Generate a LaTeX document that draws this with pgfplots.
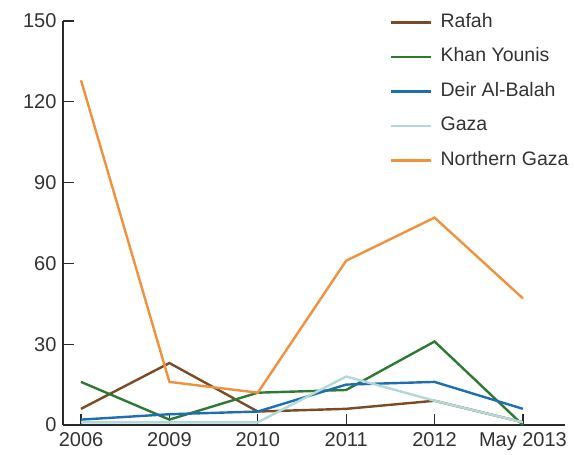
\documentclass[border=0pt]{standalone}
\usepackage{pgfplots}
\pgfplotsset{compat=1.18}
\usepackage{fontspec}
\setmainfont{Liberation Sans}
\definecolor{rafah}{HTML}{7A4B24}
\definecolor{khan}{HTML}{2D7A32}
\definecolor{deir}{HTML}{1E6EB4}
\definecolor{gaza}{HTML}{B2D8D8}
\definecolor{north}{HTML}{F0913C}
\definecolor{axisgray}{HTML}{2A2A2A}
\definecolor{textgray}{HTML}{333333}
\begin{document}
\begin{tikzpicture}
\path[use as bounding box] (-63bp,-30bp) rectangle (511bp,425bp);
\begin{axis}[
  at={(0,0)}, anchor=south west,
  scale only axis, width=502bp, height=404bp,
  xmin=-0.204, xmax=5.476, ymin=0, ymax=150,
  axis x line*=bottom, axis y line*=left,
  axis line style={draw=axisgray, line width=1.3bp, -},
  xtick={0,...,5}, xticklabels={2006,2009,2010,2011,2012,May 2013},
  ytick={0,30,...,150},
  tick align=inside, major tick length=11bp,
  tick style={draw=axisgray, line width=1.3bp},
  font=\fontsize{20bp}{24bp}\selectfont,
  tick label style={text=textgray},
  /pgf/number format/assume math mode=true,
  yticklabel style={xshift=-3bp},
  xticklabel style={yshift=-4.5bp},
  clip=false,
  every axis plot/.append style={line width=2.4bp},
  legend style={draw=none, fill=none, at={(0.6514,1.017)}, anchor=north west,
    inner sep=0pt, outer sep=0pt, row sep=17.5bp, column sep=8bp,
    nodes={inner sep=0pt, text height=13bp, text depth=4bp, text=textgray},
    font=\fontsize{19.5bp}{23bp}\selectfont},
  legend cell align=left,
  legend image code/.code={\draw[#1, line width=2.6bp] (0bp,0bp) -- (40bp,0bp);},
]
\addplot[rafah] coordinates {(0,6) (1,23) (2,5) (3,6) (4,9) (5,1)};
\addlegendentry{Rafah}
\addplot[khan] coordinates {(0,16) (1,2) (2,12) (3,13) (4,31) (5,0)};
\addlegendentry{Khan Younis}
\addplot[deir] coordinates {(0,2) (1,4) (2,5) (3,15) (4,16) (5,6)};
\addlegendentry{Deir Al-Balah}
\addplot[gaza] coordinates {(0,1) (1,1) (2,1) (3,18) (4,9) (5,1)};
\addlegendentry{Gaza}
\addplot[north] coordinates {(0,128) (1,16) (2,12) (3,61) (4,77) (5,47)};
\addlegendentry{Northern Gaza}
\end{axis}
\end{tikzpicture}
\end{document}
